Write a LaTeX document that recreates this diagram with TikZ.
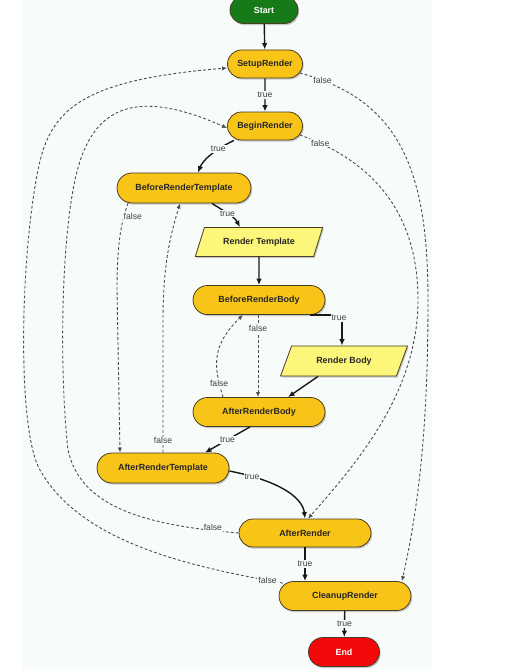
\documentclass[tikz,border=0pt]{standalone}
\usepackage{fontspec}
\setmainfont{Liberation Sans}
\usetikzlibrary{positioning, shapes.misc, shapes.geometric, shadows, arrows.meta}

\definecolor{hookyellow}{RGB}{248,196,24}
\definecolor{bodyyellow}{RGB}{252,246,122}
\definecolor{startgreen}{RGB}{22,122,24}
\definecolor{endred}{RGB}{242,10,10}
\definecolor{rim}{RGB}{72,60,36}
\definecolor{paper}{RGB}{247,251,249}

\tikzset{
  hook/.style={rounded rectangle, draw=rim, line width=0.8pt, fill=hookyellow,
    minimum height=28pt, minimum width=136pt, inner sep=2pt,
    font=\bfseries\fontsize{8.9}{10}\selectfont, text=black!85,
    drop shadow={opacity=0.4, shadow xshift=1.2pt, shadow yshift=-1.6pt}},
  work/.style={trapezium, trapezium left angle=63, trapezium right angle=117,
    trapezium stretches=true, draw=rim, line width=0.8pt, fill=bodyyellow,
    minimum height=29pt, minimum width=128pt, inner sep=2pt,
    font=\bfseries\fontsize{8.9}{10}\selectfont, text=black!85,
    drop shadow={opacity=0.4, shadow xshift=1.2pt, shadow yshift=-1.6pt}},
  goon/.style={draw=black!90, line width=1.4pt, -{Latex[length=6.5pt,width=5.5pt]}},
  skip/.style={draw=black!70, line width=0.9pt, dash pattern=on 2.8pt off 2.2pt,
    -{Latex[length=5pt,width=4.2pt]}},
  answer/.style={fill=paper, inner sep=1pt, font=\fontsize{8.6}{9}\selectfont, text=black!75}
}

\begin{document}
\begin{tikzpicture}[x=1pt, y=-1pt]
  \useasboundingbox (0,0) rectangle (522,669);
  \fill[paper] (22,0) rectangle (432,669);

  % the hooks, top to bottom
  \node[hook, fill=startgreen, text=white, minimum width=72pt, minimum height=27pt] (start) at (264,10) {Start};
  \node[hook, minimum width=79pt] (setup) at (265,64) {SetupRender};
  \node[hook, minimum width=79pt] (begin) at (265,126) {BeginRender};
  \node[hook, minimum width=138pt, minimum height=30pt] (brt) at (184,188) {BeforeRenderTemplate};
  \node[work] (rtpl) at (259,242) {Render Template};
  \node[hook, minimum height=29pt] (brb) at (259,300) {BeforeRenderBody};
  \node[work, minimum height=30pt, minimum width=127pt] (rbody) at (344,361) {Render Body};
  \node[hook, minimum height=29pt] (arb) at (259,412) {AfterRenderBody};
  \node[hook, minimum height=30pt] (art) at (163,468) {AfterRenderTemplate};
  \node[hook] (after) at (305,533) {AfterRender};
  \node[hook, minimum height=29pt] (cleanup) at (345,596) {CleanupRender};
  \node[hook, fill=endred, text=white, minimum width=75pt, minimum height=29pt] (finish) at (344,652) {End};

  % true branches
  \draw[goon] (start) -- (setup);
  \draw[goon] (setup) -- node[answer] {true} (begin);
  \draw[goon] ([xshift=-31pt]begin.south) .. controls (214,150) and (203,160) .. node[answer, pos=0.3] {true} ([xshift=14pt]brt.north);
  \draw[goon] ([xshift=28pt]brt.south) .. controls (222,210) and (234,216) .. node[answer] {true} ([xshift=-19pt]rtpl.north);
  \draw[goon] (rtpl) -- (brb);
  \draw[goon] ([xshift=51pt]brb.south) -| node[answer, pos=0.5, xshift=-3pt, yshift=-3pt] {true} ([xshift=-2pt]rbody.north);
  \draw[goon] ([xshift=-26pt]rbody.south) -- ([xshift=29pt]arb.north);
  \draw[goon] ([xshift=-9pt]arb.south) -- node[answer] {true} ([xshift=42pt]art.north);
  \draw[goon] ([yshift=-3pt]art.east) .. controls (285,482) and (303,500) .. node[answer, pos=0.15] {true} (after.north);
  \draw[goon] (after.south) -- node[answer] {true} (after.south |- cleanup.north);
  \draw[goon] (cleanup) -- node[answer] {true} (finish);

  % false branches
  \draw[skip] ([shift={(-3pt,-9pt)}]setup.east) .. controls (400,100) and (428,170) .. node[answer, pos=0.08] {false} (428,300) .. controls (428,420) and (420,500) .. ([xshift=57pt]cleanup.north);
  \draw[skip] ([shift={(-3pt,-9pt)}]begin.east) .. controls (370,160) and (418,210) .. node[answer, pos=0.1] {false} (418,300) .. controls (418,390) and (360,460) .. ([xshift=3pt]after.north);
  \draw[skip] ([xshift=-56pt]brt.south) .. controls (122,220) and (117,240) .. node[answer, pos=0.25, xshift=9pt] {false} (117,290) -- ([xshift=-43pt]art.north);
  \draw[skip] (art.north) -- node[answer, pos=0.09] {false} (163,320) .. controls (163,260) and (172,230) .. ([xshift=-4pt]brt.south);
  \draw[skip] ([xshift=-1pt]brb.south) -- node[answer, pos=0.17] {false} ([xshift=-1pt]arb.north);
  \draw[skip] ([xshift=-36pt]arb.north) .. controls (213,365) and (212,345) .. node[answer, pos=0.15] {false} ([xshift=-16pt]brb.south);
  \draw[skip] (after.west) .. controls (140,525) and (80,505) .. node[answer, pos=0.09, yshift=3pt] {false} (68,450) .. controls (60,380) and (60,250) .. (75,180) .. controls (90,110) and (130,85) .. ([yshift=-2pt]begin.west);
  \draw[skip] ([xshift=-62pt, yshift=-2pt]cleanup.north) .. controls (180,565) and (80,540) .. node[answer, pos=0.05] {false} (40,470) .. controls (17,430) and (20,260) .. (38,170) .. controls (50,110) and (80,80) .. ([yshift=-4pt]setup.west);
\end{tikzpicture}
\end{document}
